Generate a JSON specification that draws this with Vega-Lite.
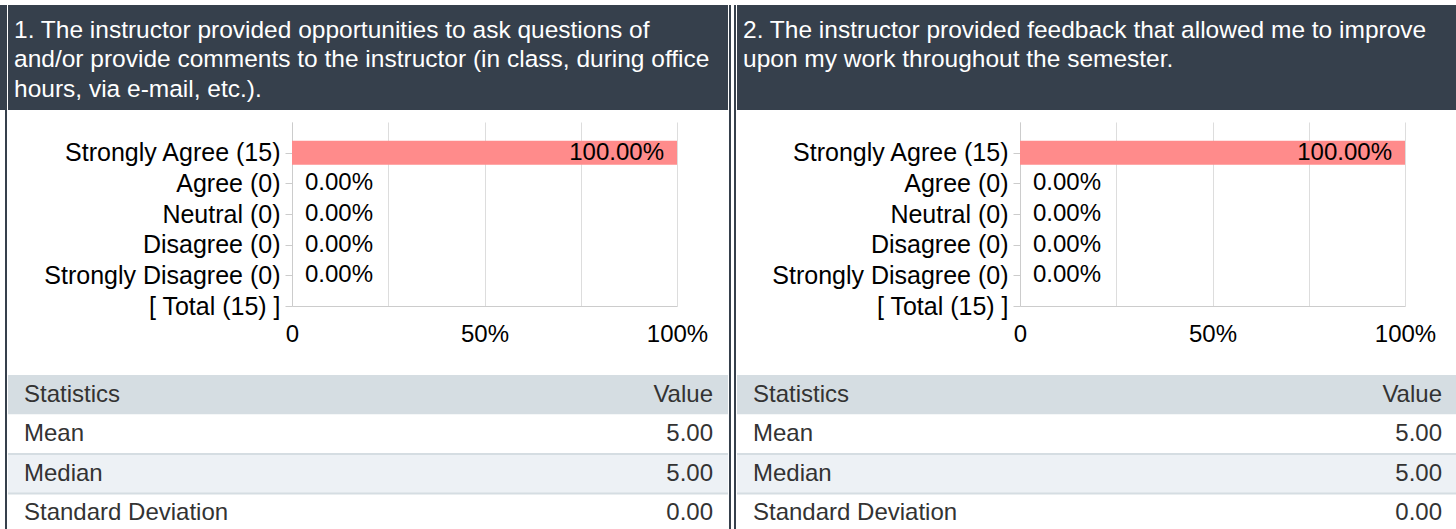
{
  "$schema": "https://vega.github.io/schema/vega-lite/v6.json",
  "background": "#ffffff",
  "padding": {"left": 0, "top": 5, "right": 0, "bottom": 0},
  "spacing": 3,
  "config": {"view": {"stroke": null}, "font": "Liberation Sans"},
  "datasets": {
    "head1": [
      {"line": 1, "text": "1. The instructor provided opportunities to ask questions of"},
      {"line": 2, "text": "and/or provide comments to the instructor (in class, during office"},
      {"line": 3, "text": "hours, via e-mail, etc.)."}
    ],
    "head2": [
      {"line": 1, "text": "2. The instructor provided feedback that allowed me to improve"},
      {"line": 2, "text": "upon my work throughout the semester."}
    ],
    "bars": [
      {"label": "Strongly Agree (15)", "pct": 1},
      {"label": "Agree (0)", "pct": 0},
      {"label": "Neutral (0)", "pct": 0},
      {"label": "Disagree (0)", "pct": 0},
      {"label": "Strongly Disagree (0)", "pct": 0},
      {"label": "[ Total (15) ]", "pct": null}
    ],
    "stats": [
      {"stat": "Statistics", "val": "Value"},
      {"stat": "Mean", "val": "5.00"},
      {"stat": "Median", "val": "5.00"},
      {"stat": "Standard Deviation", "val": "0.00"}
    ]
  },
  "hconcat": [
    {
      "spacing": 0,
      "hconcat": [
        {"width": 5, "height": 105, "view": {"fill": "#36404c", "stroke": null}, "data": {"values": []}, "mark": "text", "encoding": {}},
        {"width": 2, "height": 530, "view": {"fill": "#36404c", "stroke": null}, "data": {"values": []}, "mark": "text", "encoding": {}},
        {
          "spacing": 12,
          "vconcat": [
            {
              "width": 720, "height": 105,
              "view": {"fill": "#36404c", "stroke": null},
              "data": {"name": "head1"},
              "mark": {"type": "text", "align": "left", "baseline": "middle", "color": "#ffffff", "fontSize": 24.5, "dx": 6},
              "encoding": {
                "x": {"datum": 0, "type": "quantitative", "scale": {"domain": [0, 1]}, "axis": null},
                "y": {"field": "line", "type": "ordinal", "scale": {"type": "point", "domain": [1, 2, 3], "padding": 0.78, "align": 0.56}, "axis": null},
                "text": {"field": "text"}
              }
            },
            {
              "spacing": 0,
              "hconcat": [
                {"width": 1, "height": 1, "data": {"values": []}, "mark": "text", "encoding": {}},
                {
                  "width": 385, "height": 184,
                  "data": {"name": "bars"},
                  "encoding": {
                    "y": {"field": "label", "type": "nominal", "sort": null,
                      "scale": {"type": "point", "domain": ["Strongly Agree (15)", "Agree (0)", "Neutral (0)", "Disagree (0)", "Strongly Disagree (0)", "[ Total (15) ]"], "padding": 0.5, "align": 1},
                      "axis": {"title": null, "labelFontSize": 25, "labelColor": "#000000", "labelLimit": 400, "tickColor": "#cccccc", "tickSize": 7, "labelPadding": 5, "domainColor": "#cccccc", "minExtent": 283, "grid": false}}
                  },
                  "layer": [
                    {
                      "transform": [{"filter": "datum.pct != null"}],
                      "mark": {"type": "bar", "color": "#ff8b8b", "size": 24},
                      "encoding": {
                        "x": {"field": "pct", "type": "quantitative", "scale": {"domain": [0, 1], "nice": false},
                          "axis": {"title": null, "values": [0, 0.25, 0.5, 0.75, 1], "labelExpr": "datum.value == 0 ? '0' : datum.value == 0.5 ? '50%' : datum.value == 1 ? '100%' : ''", "labelFontSize": 24, "labelColor": "#000000", "labelFlush": false, "labelOverlap": false, "ticks": false, "labelPadding": 16, "gridColor": "#dddddd", "domainColor": "#cccccc", "minExtent": 57}}
                      }
                    },
                    {
                      "transform": [{"filter": "datum.pct != null && datum.pct >= 0.5"}],
                      "mark": {"type": "text", "align": "right", "baseline": "middle", "dx": -13, "fontSize": 24, "color": "#000000"},
                      "encoding": {"x": {"field": "pct", "type": "quantitative"}, "text": {"field": "pct", "format": ".2%"}}
                    },
                    {
                      "transform": [{"filter": "datum.pct != null && datum.pct < 0.5"}],
                      "mark": {"type": "text", "align": "left", "baseline": "middle", "dx": 13, "fontSize": 24, "color": "#000000"},
                      "encoding": {"x": {"field": "pct", "type": "quantitative"}, "text": {"field": "pct", "format": ".2%"}}
                    }
                  ]
                }
              ]
            },
            {
              "width": 720, "height": 158,
              "data": {"name": "stats"},
              "encoding": {
                "y": {"field": "stat", "type": "nominal", "sort": null, "scale": {"type": "band", "domain": ["Statistics", "Mean", "Median", "Standard Deviation"], "paddingInner": 0, "paddingOuter": 0}, "axis": null}
              },
              "layer": [
                {
                  "mark": {"type": "rect"},
                  "encoding": {
                    "x": {"datum": 0, "type": "quantitative", "scale": {"domain": [0, 1]}, "axis": null},
                    "x2": {"datum": 1},
                    "color": {"field": "stat", "type": "nominal", "scale": {"domain": ["Statistics", "Mean", "Median", "Standard Deviation"], "range": ["#d5dde2", "#ffffff", "#edf1f5", "#ffffff"]}, "legend": null}
                  }
                },
                {
                  "transform": [{"filter": "datum.stat == 'Median' || datum.stat == 'Standard Deviation'"}],
                  "mark": {"type": "rule", "color": "#d5dde2", "strokeWidth": 2},
                  "encoding": {
                    "x": {"datum": 0, "type": "quantitative"},
                    "x2": {"datum": 1},
                    "y": {"field": "stat", "type": "nominal", "bandPosition": 0}
                  }
                },
                {
                  "mark": {"type": "text", "align": "left", "baseline": "middle", "dx": 16, "fontSize": 24, "color": "#333333"},
                  "encoding": {"x": {"datum": 0, "type": "quantitative"}, "text": {"field": "stat"}}
                },
                {
                  "mark": {"type": "text", "align": "right", "baseline": "middle", "dx": -15, "fontSize": 24, "color": "#333333"},
                  "encoding": {"x": {"datum": 1, "type": "quantitative"}, "text": {"field": "val"}}
                }
              ]
            }
          ]
        },
        {"width": 2, "height": 530, "view": {"fill": "#36404c", "stroke": null}, "data": {"values": []}, "mark": "text", "encoding": {}}
      ]
    },
    {
      "spacing": 0,
      "hconcat": [
        {"width": 2, "height": 530, "view": {"fill": "#36404c", "stroke": null}, "data": {"values": []}, "mark": "text", "encoding": {}},
        {
          "spacing": 12,
          "vconcat": [
            {
              "width": 720, "height": 105,
              "view": {"fill": "#36404c", "stroke": null},
              "data": {"name": "head2"},
              "mark": {"type": "text", "align": "left", "baseline": "middle", "color": "#ffffff", "fontSize": 24.5, "dx": 6},
              "encoding": {
                "x": {"datum": 0, "type": "quantitative", "scale": {"domain": [0, 1]}, "axis": null},
                "y": {"field": "line", "type": "ordinal", "scale": {"type": "point", "domain": [1, 2, 3], "padding": 0.78, "align": 0.56}, "axis": null},
                "text": {"field": "text"}
              }
            },
            {
              "spacing": 0,
              "hconcat": [
                {"width": 1, "height": 1, "data": {"values": []}, "mark": "text", "encoding": {}},
                {
                  "width": 385, "height": 184,
                  "data": {"name": "bars"},
                  "encoding": {
                    "y": {"field": "label", "type": "nominal", "sort": null,
                      "scale": {"type": "point", "domain": ["Strongly Agree (15)", "Agree (0)", "Neutral (0)", "Disagree (0)", "Strongly Disagree (0)", "[ Total (15) ]"], "padding": 0.5, "align": 1},
                      "axis": {"title": null, "labelFontSize": 25, "labelColor": "#000000", "labelLimit": 400, "tickColor": "#cccccc", "tickSize": 7, "labelPadding": 5, "domainColor": "#cccccc", "minExtent": 282, "grid": false}}
                  },
                  "layer": [
                    {
                      "transform": [{"filter": "datum.pct != null"}],
                      "mark": {"type": "bar", "color": "#ff8b8b", "size": 24},
                      "encoding": {
                        "x": {"field": "pct", "type": "quantitative", "scale": {"domain": [0, 1], "nice": false},
                          "axis": {"title": null, "values": [0, 0.25, 0.5, 0.75, 1], "labelExpr": "datum.value == 0 ? '0' : datum.value == 0.5 ? '50%' : datum.value == 1 ? '100%' : ''", "labelFontSize": 24, "labelColor": "#000000", "labelFlush": false, "labelOverlap": false, "ticks": false, "labelPadding": 16, "gridColor": "#dddddd", "domainColor": "#cccccc", "minExtent": 57}}
                      }
                    },
                    {
                      "transform": [{"filter": "datum.pct != null && datum.pct >= 0.5"}],
                      "mark": {"type": "text", "align": "right", "baseline": "middle", "dx": -13, "fontSize": 24, "color": "#000000"},
                      "encoding": {"x": {"field": "pct", "type": "quantitative"}, "text": {"field": "pct", "format": ".2%"}}
                    },
                    {
                      "transform": [{"filter": "datum.pct != null && datum.pct < 0.5"}],
                      "mark": {"type": "text", "align": "left", "baseline": "middle", "dx": 13, "fontSize": 24, "color": "#000000"},
                      "encoding": {"x": {"field": "pct", "type": "quantitative"}, "text": {"field": "pct", "format": ".2%"}}
                    }
                  ]
                }
              ]
            },
            {
              "width": 720, "height": 158,
              "data": {"name": "stats"},
              "encoding": {
                "y": {"field": "stat", "type": "nominal", "sort": null, "scale": {"type": "band", "domain": ["Statistics", "Mean", "Median", "Standard Deviation"], "paddingInner": 0, "paddingOuter": 0}, "axis": null}
              },
              "layer": [
                {
                  "mark": {"type": "rect"},
                  "encoding": {
                    "x": {"datum": 0, "type": "quantitative", "scale": {"domain": [0, 1]}, "axis": null},
                    "x2": {"datum": 1},
                    "color": {"field": "stat", "type": "nominal", "scale": {"domain": ["Statistics", "Mean", "Median", "Standard Deviation"], "range": ["#d5dde2", "#ffffff", "#edf1f5", "#ffffff"]}, "legend": null}
                  }
                },
                {
                  "transform": [{"filter": "datum.stat == 'Median' || datum.stat == 'Standard Deviation'"}],
                  "mark": {"type": "rule", "color": "#d5dde2", "strokeWidth": 2},
                  "encoding": {
                    "x": {"datum": 0, "type": "quantitative"},
                    "x2": {"datum": 1},
                    "y": {"field": "stat", "type": "nominal", "bandPosition": 0}
                  }
                },
                {
                  "mark": {"type": "text", "align": "left", "baseline": "middle", "dx": 16, "fontSize": 24, "color": "#333333"},
                  "encoding": {"x": {"datum": 0, "type": "quantitative"}, "text": {"field": "stat"}}
                },
                {
                  "mark": {"type": "text", "align": "right", "baseline": "middle", "dx": -15, "fontSize": 24, "color": "#333333"},
                  "encoding": {"x": {"datum": 1, "type": "quantitative"}, "text": {"field": "val"}}
                }
              ]
            }
          ]
        },
        {"width": 2, "height": 530, "view": {"fill": "#36404c", "stroke": null}, "data": {"values": []}, "mark": "text", "encoding": {}}
      ]
    }
  ]
}
